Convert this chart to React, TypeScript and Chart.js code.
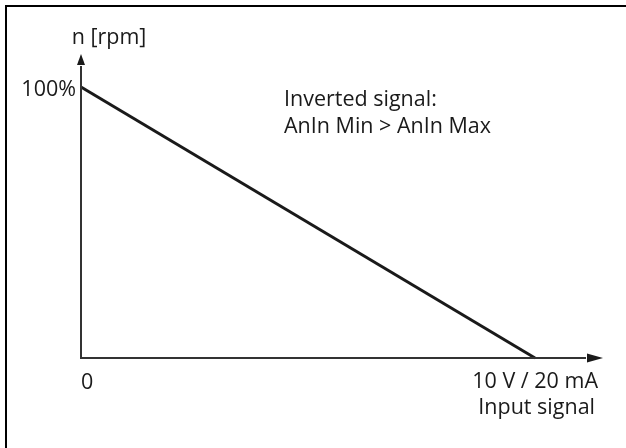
import React, { useEffect, useRef } from "react";
import { Chart, registerables } from "chart.js";

Chart.register(...registerables);

// ---- data ----
const inputValues = [0, 10]; // input signal, 0 .. 10 V / 20 mA
const speedValues = [100, 0]; // n [rpm], % of max
const xTickLabels = ["0", "10 V / 20 mA"];
const yTickLabels = ["100%"];
const xAxisTitle = "Input signal";
const yAxisTitle = "n [rpm]";
const noteLines = ["Inverted signal:", "AnIn Min > AnIn Max"];

const FONT = "21.5px 'Open Sans', 'Noto Sans', sans-serif";
const TEXT = "#1a1a1a";
const AXIS = "#333333";

const decorPlugin = {
  id: "decor",
  beforeDraw(chart: any) {
    const ctx = chart.ctx;
    ctx.save();
    ctx.fillStyle = "#ffffff";
    ctx.fillRect(0, 0, chart.width, chart.height);
    // outer frame: only top and left edges fall inside the picture
    ctx.strokeStyle = "#000000";
    ctx.lineWidth = 2;
    ctx.beginPath();
    ctx.moveTo(6, chart.height + 5);
    ctx.lineTo(6, 6);
    ctx.lineTo(chart.width + 5, 6);
    ctx.stroke();
    ctx.restore();
  },
  afterDatasetsDraw(chart: any) {
    const ctx = chart.ctx;
    const xs = chart.scales.x;
    const ys = chart.scales.y;
    const area = chart.chartArea;
    const x0 = xs.getPixelForValue(0);
    const y0 = ys.getPixelForValue(0);
    const x10 = xs.getPixelForValue(10);
    const y100 = ys.getPixelForValue(100);

    ctx.save();
    // axes
    ctx.strokeStyle = AXIS;
    ctx.fillStyle = "#1a1a1a";
    ctx.lineWidth = 2;
    const yArrowTip = area.top - 33;
    const yArrowBase = area.top - 22;
    const xArrowTip = area.right + 68;
    const xArrowBase = area.right + 52;
    ctx.beginPath();
    ctx.moveTo(x0, y0 + 1);
    ctx.lineTo(x0, yArrowBase + 1);
    ctx.stroke();
    ctx.beginPath();
    ctx.moveTo(x0 - 1, y0);
    ctx.lineTo(xArrowBase - 1, y0);
    ctx.stroke();
    // arrow heads
    ctx.beginPath();
    ctx.moveTo(x0, yArrowTip);
    ctx.lineTo(x0 - 4, yArrowBase);
    ctx.lineTo(x0 + 4, yArrowBase);
    ctx.closePath();
    ctx.fill();
    ctx.beginPath();
    ctx.moveTo(xArrowTip, y0);
    ctx.lineTo(xArrowBase, y0 - 4.5);
    ctx.lineTo(xArrowBase, y0 + 4.5);
    ctx.closePath();
    ctx.fill();

    // texts
    ctx.fillStyle = TEXT;
    ctx.font = FONT;
    ctx.textBaseline = "alphabetic";

    ctx.textAlign = "center";
    ctx.fillText(yAxisTitle, x0 + 28, area.top - 43);

    ctx.textAlign = "right";
    ctx.fillText(yTickLabels[0], x0 - 5, y100 + 9);

    ctx.textAlign = "left";
    ctx.fillText(xTickLabels[0], x0, y0 + 31);

    ctx.textAlign = "right";
    ctx.fillText(xTickLabels[1], x10 + 63, y0 + 30);
    ctx.fillText(xAxisTitle, x10 + 60, y0 + 56);

    ctx.textAlign = "left";
    const noteX = area.left + 203;
    ctx.fillText(noteLines[0], noteX, area.top + 19);
    ctx.fillText(noteLines[1], noteX, area.top + 46);
    ctx.restore();
  },
};

export default function App() {
  const canvasRef = useRef<HTMLCanvasElement | null>(null);

  useEffect(() => {
    const canvas = canvasRef.current;
    if (!canvas) return;
    const chart = new Chart(canvas, {
      type: "line",
      data: {
        datasets: [
          {
            data: inputValues.map((x, i) => ({ x, y: speedValues[i] })),
            borderColor: "#1a1a1a",
            borderWidth: 3,
            pointRadius: 0,
            fill: false,
            tension: 0,
            clip: false as any,
          },
        ],
      },
      options: {
        responsive: false,
        animation: false,
        events: [],
        layout: { padding: { left: 81, top: 87, right: 91, bottom: 90 } },
        plugins: {
          legend: { display: false },
          tooltip: { enabled: false },
          title: { display: false },
        },
        scales: {
          x: { type: "linear", min: 0, max: 10, display: false },
          y: { type: "linear", min: 0, max: 100, display: false },
        },
      },
      plugins: [decorPlugin],
    });
    return () => chart.destroy();
  }, []);

  return (
    <div style={{ position: "absolute", left: 0, top: 0, width: 626, height: 448 }}>
      <canvas ref={canvasRef} width={626} height={448} style={{ display: "block" }} />
    </div>
  );
}
